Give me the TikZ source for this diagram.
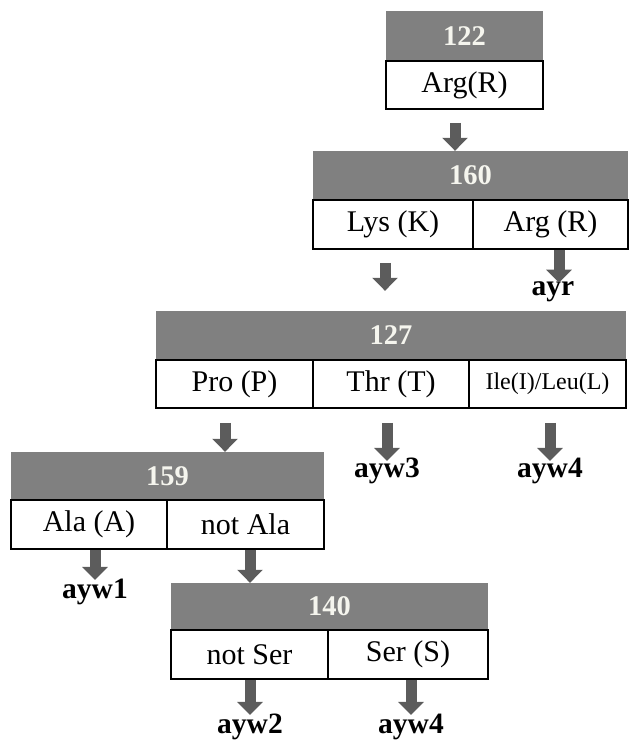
\documentclass[tikz,border=0pt]{standalone}
\usepackage{fontspec}
\setmainfont{Liberation Serif}
\usetikzlibrary{arrows.meta}
\definecolor{hdrgray}{RGB}{128,128,128}
\definecolor{arrgray}{RGB}{92,92,92}
\definecolor{hdrtext}{RGB}{245,245,238}
\tikzset{
  hdr/.style={fill=hdrgray, inner sep=0pt, text=hdrtext,
    font=\fontsize{28.5}{30}\selectfont\bfseries},
  cell/.style={draw=black, line width=1.6pt, fill=white, inner sep=0pt,
    font=\fontsize{30}{32}\selectfont},
  smallcell/.style={cell, font=\fontsize{24}{26}\selectfont},
  outcome/.style={inner sep=0pt, font=\fontsize{29.5}{31}\selectfont\bfseries},
  barrow/.style={draw=arrgray, line width=11pt,
    -{Triangle[width=25pt,length=13pt]}}
}
\begin{document}
\begin{tikzpicture}[x=1pt,y=-1pt]
\useasboundingbox (0,0) rectangle (630,744);

% position 122
\node[hdr, minimum width=157, minimum height=50] (h122) at (464.5,36) {122};
\node[cell, minimum width=157, minimum height=48] (c122) at (464.5,85) {Arg(R)};

% position 160
\node[hdr, minimum width=315, minimum height=49] (h160) at (470.5,175.5) {160};
\node[cell, minimum width=160, minimum height=49] (k160) at (393,224.5) {Lys (K)};
\node[cell, minimum width=155, minimum height=49] (r160) at (550.5,224.5) {Arg (R)};
\node[outcome] (ayr) at (553,292) {ayr};

% position 127
\node[hdr, minimum width=470, minimum height=49] (h127) at (391,335.5) {127};
\node[cell, minimum width=157, minimum height=48] (p127) at (234.5,384) {Pro (P)};
\node[cell, minimum width=156, minimum height=48] (t127) at (391,384) {Thr (T)};
\node[smallcell, minimum width=157, minimum height=48] (i127) at (547.5,384) {Ile(I)/Leu(L)};
\node[outcome] (ayw3) at (387,471) {ayw3};
\node[outcome] (ayw4a) at (550,471) {ayw4};

% position 159
\node[hdr, minimum width=313, minimum height=48] (h159) at (167.5,476) {159};
\node[cell, minimum width=156, minimum height=49] (a159) at (89,524.5) {Ala (A)};
\node[cell, minimum width=157, minimum height=49] (n159) at (245.5,524.5) {not Ala};
\node[outcome] (ayw1) at (95,592) {ayw1};

% position 140
\node[hdr, minimum width=317, minimum height=47] (h140) at (329.5,606.5) {140};
\node[cell, minimum width=157, minimum height=49] (n140) at (249.5,654.5) {not Ser};
\node[cell, minimum width=160, minimum height=49] (s140) at (408,654.5) {Ser (S)};
\node[outcome] (ayw2) at (250,727) {ayw2};
\node[outcome] (ayw4b) at (411,727) {ayw4};

% connectors
\draw[barrow] ([xshift=-9.5pt,yshift=-13pt]c122.south) -- ([xshift=-9.5pt]c122.south |- h160.north);
\draw[barrow] ([xshift=-8pt,yshift=-13pt]k160.south) -- ([xshift=-8pt,yshift=20pt]k160.south |- h127.north);
\draw[barrow] ([xshift=8.5pt]r160.south) -- ([xshift=8.5pt,yshift=-1pt]r160.south |- ayr.north);
\draw[barrow] ([xshift=-9.5pt,yshift=-14pt]p127.south) -- ([xshift=-9.5pt]p127.south |- h159.north);
\draw[barrow] ([xshift=-4pt,yshift=-14pt]t127.south) -- ([xshift=-4pt,yshift=-3pt]t127.south |- ayw3.north);
\draw[barrow] ([xshift=2.5pt,yshift=-14pt]i127.south) -- ([xshift=2.5pt,yshift=-3pt]i127.south |- ayw4a.north);
\draw[barrow] ([xshift=6pt]a159.south) -- ([xshift=6pt,yshift=-1pt]a159.south |- ayw1.north);
\draw[barrow] ([xshift=4.5pt]n159.south) -- ([xshift=4.5pt]n159.south |- h140.north);
\draw[barrow] ([xshift=0.5pt]n140.south) -- ([xshift=0.5pt,yshift=-1pt]n140.south |- ayw2.north);
\draw[barrow] ([xshift=3pt]s140.south) -- ([xshift=3pt,yshift=-1pt]s140.south |- ayw4b.north);
\end{tikzpicture}
\end{document}
